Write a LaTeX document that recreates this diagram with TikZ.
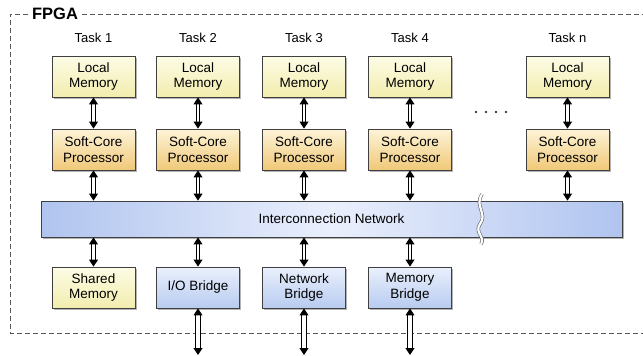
\documentclass[tikz,border=0pt]{standalone}
\usepackage{fontspec}
\setmainfont{Liberation Sans}
\usetikzlibrary{arrows.meta,shadows}

\definecolor{memtop}{HTML}{FDFCE6}
\definecolor{membot}{HTML}{F2EDAE}
\definecolor{cputop}{HTML}{FDF3D8}
\definecolor{cpubot}{HTML}{F0C978}
\definecolor{netside}{HTML}{B0C4EF}
\definecolor{netmid}{HTML}{EAEFFC}
\definecolor{brtop}{HTML}{EAF0FC}
\definecolor{brbot}{HTML}{B8CBF0}

\tikzset{
  unit/.style={draw=black!75, line width=0.9pt, minimum width=83pt, minimum height=41pt,
    inner sep=0pt, align=center, font=\fontsize{13.5}{15.5}\selectfont,
    drop shadow={shadow xshift=1.5pt, shadow yshift=-2pt, opacity=0.6}},
  mem/.style={unit, top color=memtop, bottom color=membot},
  cpu/.style={unit, top color=cputop, bottom color=cpubot},
  bridge/.style={unit, top color=brtop, bottom color=brbot},
  task/.style={font=\fontsize{13}{15}\selectfont},
  link/.style={double=white, double distance=2.2pt, line width=1pt,
    {Triangle[length=7pt,width=9pt]}-{Triangle[length=7pt,width=9pt]}},
  outlink/.style={link, double distance=3.2pt},
  frame/.style={draw=black!65, line width=0.9pt, dash pattern=on 5pt off 3pt},
}

\begin{document}
\begin{tikzpicture}[x=1pt,y=-1pt]
        \useasboundingbox (0,0) rectangle (643,356);
        \clip (0,0) rectangle (643,356);

        % FPGA border
        \node[font=\bfseries\fontsize{16.5}{18}\selectfont, fill=white, inner sep=4pt] (fpga) at (55,14) {FPGA};
        \draw[frame] (fpga.west) -- (10,14) -- (10,333) -- (650,333);
        \draw[frame] (fpga.east) -- (650,14);

        \node[task] (t1) at (93.5,38) {Task 1};
        \node[task] (t2) at (198,38) {Task 2};
        \node[task] (t3) at (304,38) {Task 3};
        \node[task] (t4) at (410,38) {Task 4};
        \node[task] (tn) at (567.5,38) {Task n};

        \node[mem] (lm1) at (93.5,76.5) {Local\\Memory};
        \node[mem] (lm2) at (198,76.5) {Local\\Memory};
        \node[mem] (lm3) at (304,76.5) {Local\\Memory};
        \node[mem] (lm4) at (410,76.5) {Local\\Memory};
        \node[mem] (lmn) at (567.5,76.5) {Local\\Memory};

        \node[cpu] (cpu1) at (93.5,149.5) {Soft-Core\\Processor};
        \node[cpu] (cpu2) at (198,149.5) {Soft-Core\\Processor};
        \node[cpu] (cpu3) at (304,149.5) {Soft-Core\\Processor};
        \node[cpu] (cpu4) at (410,149.5) {Soft-Core\\Processor};
        \node[cpu] (cpun) at (567.5,149.5) {Soft-Core\\Processor};

        \foreach \x in {476,486,496,506}
            \fill (\x,112) circle (1.2pt);

        \node[unit, minimum width=581pt, minimum height=36pt, left color=netside,
              right color=netside, middle color=netmid] (net) at (331.5,219) {Interconnection Network};
        \draw[black!60, line width=0.6pt, double=white, double distance=2.2pt]
            (482,194) .. controls (474,206) and (488,214) .. (480,224)
            .. controls (474,232) and (486,238) .. (481,244);

        \node[mem] (shm) at (93.5,287.5) {Shared\\Memory};
        \node[bridge] (iob) at (198,287.5) {I/O Bridge};
        \node[bridge] (nb) at (304,287.5) {Network\\Bridge};
        \node[bridge] (mb) at (410,287.5) {Memory\\Bridge};

        \draw[link] (lm1) -- (cpu1);
        \draw[link] (lm2) -- (cpu2);
        \draw[link] (lm3) -- (cpu3);
        \draw[link] (lm4) -- (cpu4);
        \draw[link] (lmn) -- (cpun);

        \draw[link] (cpu1) -- (cpu1 |- net.north);
        \draw[link] (cpu2) -- (cpu2 |- net.north);
        \draw[link] (cpu3) -- (cpu3 |- net.north);
        \draw[link] (cpu4) -- (cpu4 |- net.north);
        \draw[link] (cpun) -- (cpun |- net.north);

        \draw[link] (net.south -| shm) -- (shm);
        \draw[link] (net.south -| iob) -- (iob);
        \draw[link] (net.south -| nb) -- (nb);
        \draw[link] (net.south -| mb) -- (mb);

        \coordinate (ioout) at (198,355);
        \coordinate (nbout) at (304,355);
        \coordinate (mbout) at (410,355);
        \draw[outlink] (iob) -- (ioout);
        \draw[outlink] (nb) -- (nbout);
        \draw[outlink] (mb) -- (mbout);
    \end{tikzpicture}
\end{document}
